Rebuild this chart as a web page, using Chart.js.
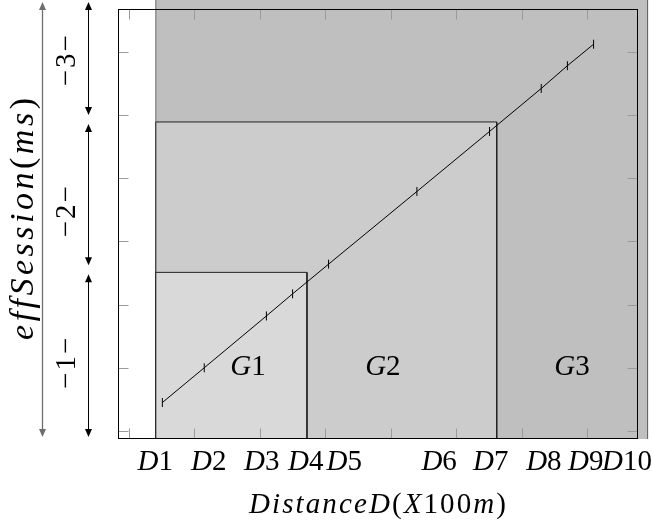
<!DOCTYPE html>
<html>
<head>
<meta charset="utf-8">
<script src="https://cdn.jsdelivr.net/npm/chart.js@4.4.1/dist/chart.umd.min.js"></script>
<style>
  html, body { margin: 0; padding: 0; background: #fff; }
</style>
</head>
<body>
<canvas id="chart" width="653" height="521"></canvas>
<script>
// measured series
const distance = [0.51, 1.15, 2.10, 2.50, 3.05, 4.40, 5.51, 6.30, 6.70, 7.10];
const effSession = [0.45, 1.00, 1.82, 2.17, 2.64, 3.79, 4.74, 5.42, 5.78, 6.12];

// x tick labels and where they sit
const xTickLabels = ['D1', 'D2', 'D3', 'D4', 'D5', 'D6', 'D7', 'D8', 'D9', 'D10'];
const xTickPos = [0.40, 1.22, 2.03, 2.70, 3.29, 4.74, 5.53, 6.34, 6.98, 7.61];

// groups (shaded rectangles)
const groupNames = ['G1', 'G2', 'G3'];
const groupStart = 0.41;
const groupEnd = [2.72, 5.62, 7.925];
const groupTop = [2.51, 4.89, 6.84];
const groupLabelX = [1.82, 3.88, 6.77];
const groupFill = ['#d9d9d9', '#cccccc', '#bfbfbf'];
const groupEdge = ['#222', '#222', '#666'];

// labels on the left side
const yBandLabels = ['−1−', '−2−', '−3−'];
const yBandPos = [1.07, 3.47, 5.86];

// inner tick marks
const xMarks = [0, 1, 2, 3, 4, 5, 6, 7];
const yMarks = [0, 1, 2, 3, 4, 5, 6];

// axis ranges
const xMin = -0.168, xMax = 7.947, frameXMax = 7.764;
const yMin = -0.127, yMax = 6.82, frameYMax = 6.685;

function pickSerif() {
  const c = document.createElement('canvas').getContext('2d');
  for (const f of ['Liberation Serif', 'DejaVu Serif', 'Noto Serif']) {
    c.font = '40px "' + f + '", monospace';
    const a = c.measureText('effSession(ms)').width;
    c.font = '40px "' + f + '", sans-serif';
    const b = c.measureText('effSession(ms)').width;
    if (a === b) return '"' + f + '"';
  }
  return 'serif';
}
const SERIF = pickSerif();

// draw text like latex math: letters italic, the rest upright
function drawMath(ctx, text, size, spacing) {
  const chars = [...text];
  const fonts = chars.map(c => (/[A-Za-z]/.test(c) ? 'italic ' : '') + size + 'px ' + SERIF);
  const widths = chars.map((c, i) => { ctx.font = fonts[i]; return ctx.measureText(c).width; });
  const total = widths.reduce((a, b) => a + b, 0) + spacing * (chars.length - 1);
  let cx = -total / 2;
  ctx.textAlign = 'left';
  ctx.textBaseline = 'alphabetic';
  chars.forEach((c, i) => {
    ctx.font = fonts[i];
    ctx.fillText(c, cx, 0);
    cx += widths[i] + spacing;
  });
}

function arrow(ctx, x, y0, y1, color, w) {
  const hl = 8, hw = 3.5;
  ctx.strokeStyle = color;
  ctx.fillStyle = color;
  ctx.lineWidth = w;
  ctx.beginPath();
  ctx.moveTo(x, y0 + hl - 1);
  ctx.lineTo(x, y1 - hl + 1);
  ctx.stroke();
  ctx.beginPath();
  ctx.moveTo(x, y0);
  ctx.lineTo(x - hw, y0 + hl);
  ctx.lineTo(x + hw, y0 + hl);
  ctx.closePath();
  ctx.fill();
  ctx.beginPath();
  ctx.moveTo(x, y1);
  ctx.lineTo(x - hw, y1 - hl);
  ctx.lineTo(x + hw, y1 - hl);
  ctx.closePath();
  ctx.fill();
}

const decor = {
  id: 'decor',
  afterDatasetsDraw(chart) {
    const { ctx, scales: { x, y } } = chart;
    const left = Math.round(x.getPixelForValue(xMin)) + 0.5;
    const right = Math.round(x.getPixelForValue(frameXMax)) + 0.5;
    const top = Math.round(y.getPixelForValue(frameYMax)) + 0.5;
    const bottom = Math.round(y.getPixelForValue(yMin)) - 0.5;
    ctx.save();
    ctx.strokeStyle = '#9a9a9a';
    ctx.lineWidth = 1;
    ctx.beginPath();
    xMarks.forEach(v => {
      const px = Math.round(x.getPixelForValue(v)) + 0.5;
      ctx.moveTo(px, bottom); ctx.lineTo(px, bottom - 10);
      ctx.moveTo(px, top); ctx.lineTo(px, top + 10);
    });
    yMarks.forEach(v => {
      const py = Math.round(y.getPixelForValue(v)) + 0.5;
      ctx.moveTo(left, py); ctx.lineTo(left + 10, py);
      ctx.moveTo(right, py); ctx.lineTo(right - 10, py);
    });
    ctx.stroke();
    ctx.strokeStyle = '#000';
    ctx.strokeRect(left, top, right - left, bottom - top);
    ctx.restore();
  },
  afterDraw(chart) {
    const { ctx, scales: { x, y } } = chart;
    const bottom = y.getPixelForValue(yMin);
    const mid = (x.getPixelForValue(xMin) + x.getPixelForValue(frameXMax)) / 2;
    ctx.save();
    ctx.fillStyle = '#000';

    // x tick labels
    xTickLabels.forEach((t, i) => {
      ctx.save();
      ctx.translate(x.getPixelForValue(xTickPos[i]), bottom + 31);
      drawMath(ctx, t, 29, 0);
      ctx.restore();
    });

    // x title
    ctx.save();
    ctx.translate(mid, bottom + 73.5);
    drawMath(ctx, 'DistanceD(X100m)', 29, 2.1);
    ctx.restore();

    // group labels
    groupNames.forEach((g, i) => {
      ctx.save();
      ctx.translate(x.getPixelForValue(groupLabelX[i]), y.getPixelForValue(0.89));
      drawMath(ctx, g, 29, 0);
      ctx.restore();
    });

    // y title
    ctx.save();
    ctx.translate(33, 219);
    ctx.rotate(-Math.PI / 2);
    drawMath(ctx, 'effSession(ms)', 34, 3.5);
    ctx.restore();

    // band labels
    yBandLabels.forEach((t, i) => {
      ctx.save();
      ctx.translate(75, y.getPixelForValue(yBandPos[i]));
      ctx.rotate(-Math.PI / 2);
      drawMath(ctx, t, 29, 2);
      ctx.restore();
    });

    // arrows
    arrow(ctx, 42.5, 2, 437, '#6e6e6e', 1.3);
    const b = [Math.max(0, y.getPixelForValue(groupTop[2])), y.getPixelForValue(groupTop[1]),
      y.getPixelForValue(groupTop[0]), bottom];
    arrow(ctx, 88.5, b[0] + 2, b[1] - 7, '#000', 1);
    arrow(ctx, 88.5, b[1] + 2, b[2] - 7, '#000', 1);
    arrow(ctx, 88.5, b[2] + 2, b[3] - 2, '#000', 1);
    ctx.restore();
  }
};

const groupSets = groupNames.map((g, i) => ({
  label: g,
  data: [
    { x: groupStart, y: yMin },
    { x: groupStart, y: groupTop[i] },
    { x: groupEnd[i], y: groupTop[i] },
    { x: groupEnd[i], y: yMin },
  ],
  showLine: true,
  fill: 'start',
  backgroundColor: groupFill[i],
  borderColor: groupEdge[i],
  borderWidth: 1,
  pointRadius: 0,
  tension: 0,
  order: i + 1,
}));

new Chart(document.getElementById('chart'), {
  type: 'scatter',
  data: {
    datasets: [
      {
        label: 'effSession',
        data: distance.map((d, i) => ({ x: d, y: effSession[i] })),
        showLine: true,
        borderColor: '#000',
        borderWidth: 1,
        pointStyle: 'line',
        rotation: 90,
        pointRadius: 4.5,
        pointBorderColor: '#000',
        pointBorderWidth: 1,
        fill: false,
        order: 0,
      },
      ...groupSets,
    ],
  },
  options: {
    responsive: false,
    animation: false,
    layout: { autoPadding: false, padding: { left: 118, right: 4, top: 0, bottom: 82 } },
    scales: {
      x: { type: 'linear', min: xMin, max: xMax, display: false },
      y: { type: 'linear', min: yMin, max: yMax, display: false },
    },
    plugins: {
      legend: { display: false },
      tooltip: { enabled: false },
    },
  },
  plugins: [decor],
});
</script>
</body>
</html>
